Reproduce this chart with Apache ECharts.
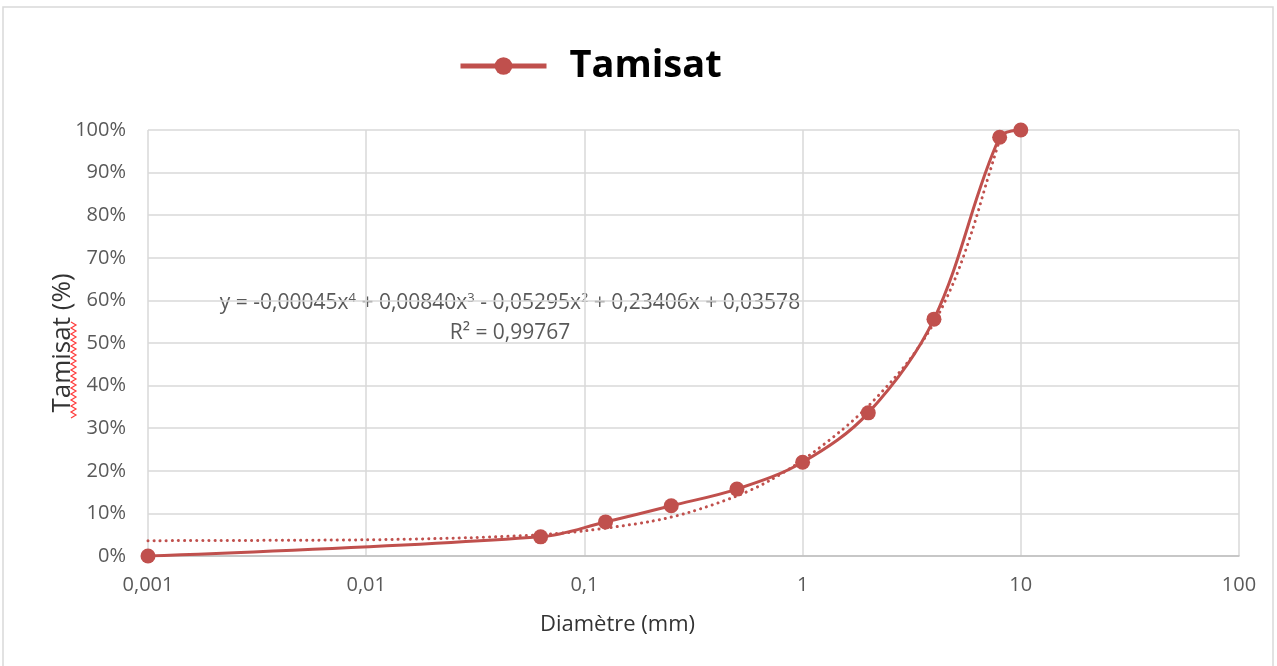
<!DOCTYPE html>
<html>
<head>
<meta charset="utf-8">
<script src="https://cdn.jsdelivr.net/npm/echarts@6/dist/echarts.min.js"></script>
<style>
html,body{margin:0;padding:0;background:#fff;}
#c{width:1277px;height:666px;}
</style>
</head>
<body>
<div id="c"></div>
<script>
// Sieve data: diameter (mm) and passing (%)
const diameters = [0.001, 0.063, 0.125, 0.25, 0.5, 1, 2, 4, 8, 10];
const tamisat = [0, 4.5, 8.0, 11.8, 15.7, 22.0, 33.6, 55.6, 98.3, 100];
// Polynomial trendline, values
const trendX = [0.001, 0.01, 0.03, 0.063, 0.1, 0.2, 0.3, 0.5, 0.7, 1, 1.5, 2, 3, 4, 5, 6, 7, 8];
const trendY = [3.6, 3.8, 4.3, 5.0, 5.9, 8.1, 10.2, 14.1, 17.6, 22.5, 29.4, 35.2, 45.2, 54.7, 65.1, 76.5, 88.0, 97.7];
const xTicks = ['0,001', '0,01', '0,1', '1', '10', '100'];
const seriesName = 'Tamisat';
const eqLine1 = ['y = -0,00045x', '4', ' + 0,00840x', '3', ' - 0,05295x', '2', ' + 0,23406x + 0,03578'];
const eqLine2 = 'R² = 0,99767';

const color = '#c0504d';
const font = 'Open Sans';
const chart = echarts.init(document.getElementById('c'));

const mainData = diameters.map((d, i) => [d, tamisat[i]]);
const trendData = trendX.map((d, i) => [d, trendY[i]]);

function eqRich() {
  let s = '';
  eqLine1.forEach((p, i) => { s += (i % 2 === 1) ? '{sup|' + p + '}' : '{n|' + p + '}'; });
  return s;
}

// wavy spell-check underline points
const wave = [];
for (let y = 418, k = 0; y >= 320; y -= 3, k++) wave.push([k % 2 === 0 ? 71 : 76, y]);

chart.setOption({
  animation: false,
  backgroundColor: '#fff',
  textStyle: { fontFamily: font },
  grid: { left: 148, right: 38, top: 130, bottom: 110 },
  legend: {
    data: [seriesName],
    top: 42,
    left: 453,
    itemWidth: 86,
    itemHeight: 22,
    lineStyle: { width: 5 },
    textStyle: { fontSize: 38, fontWeight: 'bold', color: '#000', fontFamily: font, padding: [0, 0, 20, 18] }
  },
  xAxis: {
    type: 'log',
    logBase: 10,
    min: 0.001,
    max: 100,
    name: 'Diamètre (mm)',
    nameLocation: 'middle',
    nameGap: 58,
    nameMoveOverlap: false,
    nameTextStyle: { fontSize: 22, color: '#333', fontFamily: font, padding: [0, 152, 0, 0] },
    axisLine: { show: true, lineStyle: { color: '#bfbfbf', width: 1.5 } },
    axisTick: { show: false },
    axisLabel: {
      fontSize: 20, color: '#595959', margin: 19,
      formatter: function (v) {
        const idx = Math.round(Math.log10(v)) + 3;
        return xTicks[idx] !== undefined ? xTicks[idx] : String(v).replace('.', ',');
      }
    },
    splitLine: { show: true, lineStyle: { color: '#d9d9d9', width: 1.5 } }
  },
  yAxis: {
    type: 'value',
    min: 0,
    max: 100,
    interval: 10,
    name: 'Tamisat (%)',
    nameLocation: 'middle',
    nameGap: 72,
    nameMoveOverlap: false,
    nameRotate: 90,
    nameTextStyle: { fontSize: 26, color: '#333', fontFamily: font },
    axisLine: { show: false },
    axisTick: { show: false },
    axisLabel: { fontSize: 20, color: '#595959', margin: 22, formatter: '{value}%' },
    splitLine: { show: true, lineStyle: { color: '#d9d9d9', width: 1.5 } }
  },
  series: [
    {
      name: 'trend',
      type: 'line',
      data: trendData,
      smooth: 0.3,
      symbol: 'none',
      silent: true,
      lineStyle: { color: color, width: 3, type: [0.1, 6], cap: 'round' },
      z: 1
    },
    {
      name: seriesName,
      type: 'line',
      data: mainData,
      smooth: 0.35,
      symbol: 'circle',
      symbolSize: 15,
      itemStyle: { color: color },
      lineStyle: { color: color, width: 3 },
      z: 2
    }
  ],
  graphic: [
    {
      type: 'rect',
      shape: { x: 3, y: 7, width: 1270, height: 680 },
      style: { fill: 'none', stroke: '#d9d9d9', lineWidth: 1.5 },
      silent: true
    },
    {
      type: 'text',
      x: 510,
      y: 303,
      style: {
        text: eqRich(),
        align: 'center',
        verticalAlign: 'middle',
        rich: {
          n: { fontSize: 21, fill: '#595959', fontFamily: font },
          sup: { fontSize: 13, fill: '#595959', fontFamily: font, verticalAlign: 'top', padding: [0, 0, 10, 0] }
        }
      }
    },
    {
      type: 'text',
      x: 510,
      y: 333,
      style: { text: eqLine2, fontSize: 21, fill: '#595959', fontFamily: font, align: 'center', verticalAlign: 'middle' }
    },
    {
      type: 'polyline',
      shape: { points: wave },
      style: { stroke: '#ff3b3b', lineWidth: 1.2, fill: 'none' },
      silent: true
    }
  ]
});
</script>
</body>
</html>
